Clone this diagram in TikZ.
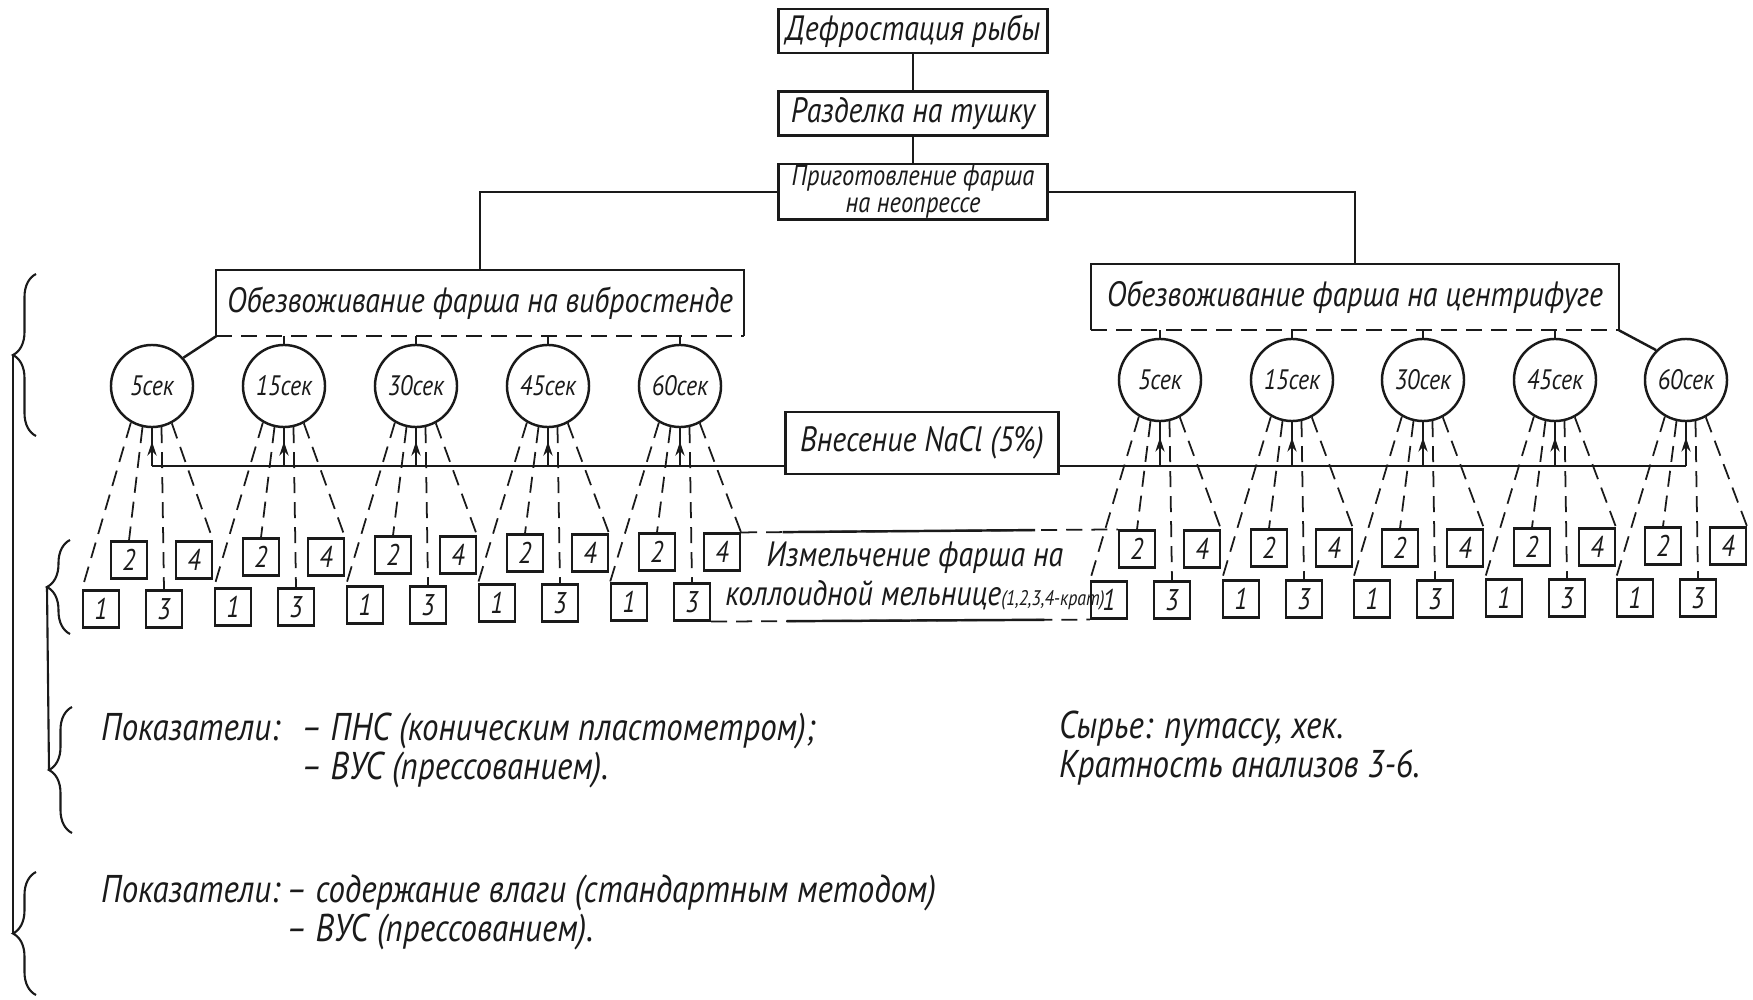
\documentclass[tikz,border=0pt]{standalone}
\usepackage{fontspec}
\setmainfont{PT Sans}[FakeStretch=0.85]
\usepackage{tikz}
\usetikzlibrary{arrows.meta,positioning,calc,decorations.pathreplacing,decorations.markings}
\definecolor{ink}{HTML}{1A1A1A}
\newcommand{\hand}{\itshape\fontsize{11}{11}\selectfont}
\newcommand{\handbox}{\itshape\fontsize{10}{10}\selectfont}
\newcommand{\handsmall}{\itshape\fontsize{8.2}{7.8}\selectfont}

\begin{document}
\begin{tikzpicture}[x=0.01cm,y=-0.01cm,color=ink,line width=0.7pt,font=\hand,
    stage/.style={draw,minimum width=26.9mm,minimum height=4.4mm,inner sep=1pt,align=center,font=\handbox},
    dryer/.style={minimum width=52.5mm,minimum height=6.4mm,inner sep=0pt,font=\handbox},
    timer/.style={draw,circle,minimum size=8.2mm,inner sep=0pt,font=\itshape\fontsize{8}{8}\selectfont},
    cell/.style={draw,line width=0.6pt,minimum width=3.6mm,minimum height=3.7mm,inner sep=0pt,
      font=\itshape\fontsize{8.5}{8.5}\selectfont},
    broken/.style={line width=0.5pt,dash pattern=on 1.6mm off 0.9mm},
    rise/.style={line width=0.6pt,postaction={decorate},
      decoration={markings,mark=at position 0.65 with {\arrow{Stealth[length=4pt,width=2.6pt]}}}},
    bracket/.style={decorate,decoration={brace,amplitude=2.3mm},line width=0.6pt}]
  \useasboundingbox (0,0) rectangle (1753,1000);
  \fill[white] (0,0) rectangle (1753,1000);

  % preparation chain
  \node[stage] (defrost) at (913,31) {Дефростация рыбы};
  \node[stage,below=3.6mm of defrost] (cut) {Разделка на тушку};
  \node[stage,below=2.6mm of cut,font=\handsmall,inner xsep=0.5pt,inner ysep=0.3pt] (mince)
    {Приготовление фарша\\на неопрессе};
  \draw (defrost) -- (cut);
  \draw (cut) -- (mince);

  % dewatering
  \node[dryer] (vib) at (480,303) {Обезвоживание фарша на вибростенде};
  \node[dryer] (cen) at (1355,297) {Обезвоживание фарша на центрифуге};
  \draw (mince.west) -| (vib.north);
  \draw (mince.east) -| (cen.north);
  \draw (vib.south west) -- (vib.north west) -- (vib.north east) -- (vib.south east);
  \draw[broken,line width=0.7pt] (vib.south west) -- (vib.south east);
  \draw (cen.south west) -- (cen.north west) -- (cen.north east) -- (cen.south east);
  \draw[broken,line width=0.7pt] (cen.south west) -- (cen.south east);

  % exposure times
  \foreach \x/\t [count=\i] in {152/5,284/15,416/30,548/45,680/60}
    \node[timer] (L\i) at (\x,386) {\t сек};
  \foreach \x/\t [count=\i] in {1160/5,1292/15,1423/30,1555/45,1686/60}
    \node[timer] (R\i) at (\x,380) {\t сек};
  \draw (vib.south west) -- (L1.42);
  \foreach \i in {2,...,5}
    \draw (L\i.north |- vib.south) -- (L\i.north);
  \foreach \i in {1,...,4}
    \draw (R\i.north |- cen.south) -- (R\i.north);
  \draw (cen.south east) -- (R5.135);

  % salt
  \node[draw,minimum width=27.3mm,minimum height=6.2mm,font=\handbox] (salt) at (922,443) {Внесение NaCl (5\%)};
  \coordinate (feedline) at (0,466);
  \draw (salt.west |- feedline) -- (L1 |- feedline);
  \draw (salt.east |- feedline) -- (R5 |- feedline);
  \foreach \c in {L1,L2,L3,L4,L5,R1,R2,R3,R4,R5}
    \draw[rise] (\c |- feedline) -- (\c.south);

  % milling passes
  \foreach \c/\yt/\yb in {L1/560/609,L2/557/607,L3/555/605,L4/553/603,L5/552/602,
                          R1/549/600,R2/548/599,R3/548/599,R4/547/598,R5/546/598}{
    \node[cell] (\c-1) at ($(\c |- 0,\yb)+(-51,0)$) {1};
    \node[cell] (\c-2) at ($(\c |- 0,\yt)+(-23,0)$) {2};
    \node[cell] (\c-3) at ($(\c |- 0,\yb)+(12,0)$) {3};
    \node[cell] (\c-4) at ($(\c |- 0,\yt)+(42,0)$) {4};
    \draw[broken] (\c.240) -- (\c-1.north west);
    \draw[broken] (\c.257) -- (\c-2.north);
    \draw[broken] (\c.283) -- (\c-3.north);
    \draw[broken] (\c.298) -- (\c-4.north east);
  }
  \node[align=center,font=\itshape\fontsize{10}{11}\selectfont] (mill) at (915,576)
    {Измельчение фарша на\\коллоидной мельнице{\fontsize{6}{6}\selectfont(1,2,3,4-крат)}};
  \draw[broken] (L5-4.north east) -- (R1-2.north west);
  \draw ($(L5-4.north east)!0.11!(R1-2.north west)$) -- ($(L5-4.north east)!0.78!(R1-2.north west)$);
  \draw[broken] (L5-3.south east) -- (R1-1.south west);
  \draw ($(L5-3.south east)!0.2!(R1-1.south west)$) -- ($(L5-3.south east)!0.88!(R1-1.south west)$);

  % notes
  \node[anchor=base west,inner sep=0pt] (tests1) at (100,740)
    {\begin{tabular}[t]{@{}p{20mm}@{}l@{}}Показатели: & – ПНС (коническим пластометром);\\
      & – ВУС (прессованием).\end{tabular}};
  \node[anchor=base west,inner sep=0pt] (tests2) at (100,902)
    {\begin{tabular}[t]{@{}p{18.5mm}@{}l@{}}Показатели: & – содержание влаги (стандартным методом)\\
      & – ВУС (прессованием).\end{tabular}};
  \node[anchor=base west,inner sep=0pt] (raw) at (1058,738)
    {\begin{tabular}[t]{@{}l@{}}Сырье: путассу, хек.\\ Кратность анализов 3-6.\end{tabular}};

  % brackets
  \draw[bracket] (36,436) -- (36,274);
  \draw[bracket] (70,634) -- (70,540);
  \draw[bracket] (72,833) -- (72,707);
  \draw[bracket] (36,995) -- (36,872);
  \coordinate (t1) at (13,355);
  \coordinate (t2) at (47,587);
  \coordinate (t3) at (49,770);
  \coordinate (t4) at (13,933);
  \draw[line width=0.6pt] (t1) -- (t4);
  \draw[line width=0.6pt] (t2) -- (t3);
\end{tikzpicture}
\end{document}
